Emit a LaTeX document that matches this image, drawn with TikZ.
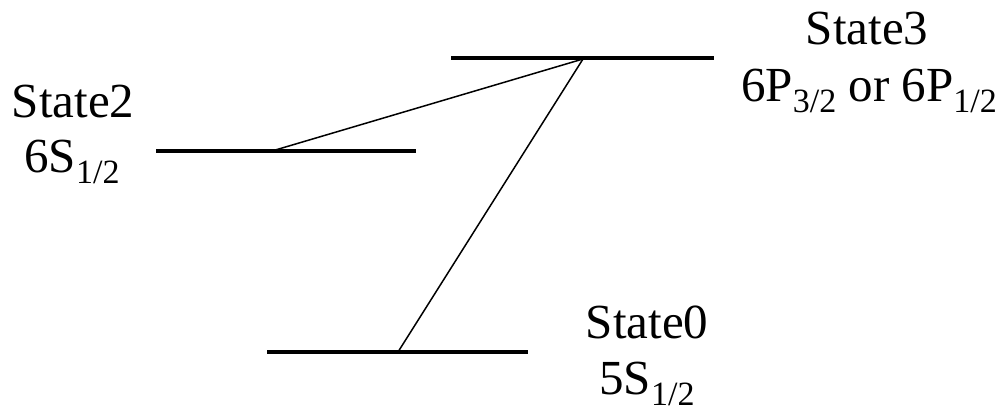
\documentclass[tikz,border=0pt]{standalone}
\usepackage{fontspec}
\setmainfont{Liberation Serif}
\newcommand\lsub[1]{\raisebox{-11pt}{\fontsize{34}{34}\selectfont #1}}
\tikzset{
  levelline/.style={line width=4.5pt},
  trans/.style={line width=1.5pt},
  lbl/.style={inner sep=0pt, anchor=base, font=\fontsize{49}{56}\selectfont}
}
\begin{document}
\begin{tikzpicture}[x=1pt,y=1pt]
\useasboundingbox (0,0) rectangle (1002,415);
% level endpoints
\coordinate (L3a) at (451,357);
\coordinate (L3b) at (714,357);
\coordinate (L2a) at (156,264);
\coordinate (L2b) at (416,264);
\coordinate (L0a) at (267,63);
\coordinate (L0b) at (528,63);
% transition points
\coordinate (T3) at (583,356);
\coordinate (T2) at (272,264);
\coordinate (T0) at (398,63);
\draw[levelline] (L3a) -- (L3b);
\draw[levelline] (L2a) -- (L2b);
\draw[levelline] (L0a) -- (L0b);
\draw[trans] (T3) -- (T2);
\draw[trans] (T3) -- (T0);
% labels
\node[lbl] (s3a) at (867,370) {State3};
\node[lbl] (s3b) at (869,313) {6P\lsub{3/2} or 6P\lsub{1/2}};
\node[lbl] (s2a) at (73,297) {State2};
\node[lbl] (s2b) at (72,242) {6S\lsub{1/2}};
\node[lbl] (s0a) at (647,76) {State0};
\node[lbl] (s0b) at (647,20) {5S\lsub{1/2}};
\end{tikzpicture}
\end{document}
